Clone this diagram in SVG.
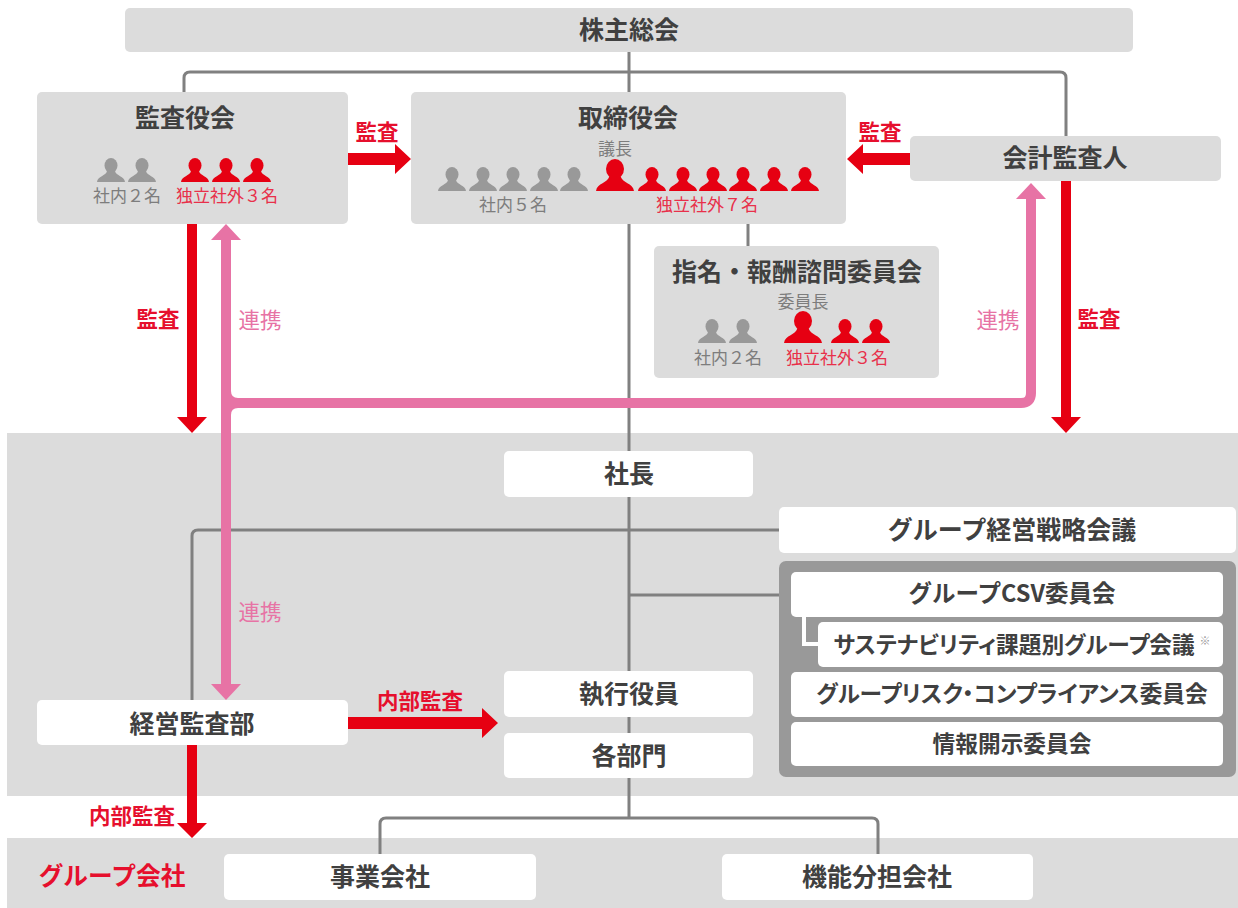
<svg xmlns="http://www.w3.org/2000/svg" xmlns:xlink="http://www.w3.org/1999/xlink" width="1238" height="908" viewBox="0 0 1238 908">
<style>
text{font-family:"Noto Sans CJK JP","Noto Sans CJK SC",sans-serif;text-anchor:middle;dominant-baseline:central}
.band{fill:#dcdcdc}
.g{fill:#dcdcdc}
.w{fill:#fff}
.t{font-size:25px;font-weight:700;fill:#404040}
.m{font-size:22.7px;font-weight:700;fill:#404040}
.k{font-feature-settings:"palt"}
.s{font-size:17px;fill:#7d7d7d}
.sr{font-size:17px;fill:#e8304a}
.rl{font-size:21.5px;font-weight:700;fill:#e60f2d}
.pl{font-size:21.5px;fill:#e773a5}
.ln{fill:none;stroke:#808080;stroke-width:3}
.pk{fill:none;stroke:#e773a5;stroke-width:10}
.gp{fill:#999}
.rp{fill:#e60012}
.ra{fill:#e60012}
.pa{fill:#e773a5}
</style>
<defs>
<g id="p"><ellipse cx="0" cy="-16.500" rx="6.500" ry="7.500"/><path d="M-14 0C-13.500-6-5-6-4-11L4-11C5-6 13.500-6 14 0Z"/></g>
<g id="P"><ellipse cx="0" cy="-22" rx="9" ry="10"/><path d="M-19 0C-18-8-7-8-5.500-15L5.500-15C7-8 18-8 19 0Z"/></g>
</defs>
<g id="bands">
<rect class="band" x="7" y="433" width="1231" height="363"/>
<rect class="band" x="7" y="838" width="1231" height="70"/>
</g>
<g id="connectors">
<path class="ln" d="M629 52V451M629 497V671M629 717V733M629 778V818"/>
<path class="ln" d="M184 92V78Q184 72 190 72H1060Q1066 72 1066 78V136"/>
<path class="ln" d="M748 224V246"/>
<path class="ln" d="M192 700V536Q192 530 198 530H779"/>
<path class="ln" d="M629 595H779"/>
<path class="ln" d="M380 854V824Q380 818 386 818H872Q878 818 878 824V854"/>
<path class="pk" d="M226 236V688"/>
<path class="pk" d="M226 403H1021Q1031 403 1031 393V196"/>
<path class="pa" d="M226 224L241 240H211ZM226 700L211 684H241ZM1031 183L1046 199H1016ZM231 391Q231 398 238 398H231ZM231 415Q231 408 238 408H231Z"/>
<path class="ra" d="M187 224H197V417H207L192 433L177 417H187Z"/>
<path class="ra" d="M1061 181H1071V417H1081L1066 433L1051 417H1061Z"/>
<path class="ra" d="M348 153H395V144L411 159L395 174V165H348Z"/>
<path class="ra" d="M910 153H863V144L847 159L863 174V165H910Z"/>
<path class="ra" d="M348 717H482V708L498 723L482 738V729H348Z"/>
<path class="ra" d="M187 745H197V823H207L192 838L177 823H187Z"/>
</g>
<g id="n-shareholders"><rect class="g" x="125" y="8" width="1008" height="44" rx="5"/><text class="t" x="629" y="28">株主総会</text></g>
<g id="n-audit-board">
<rect class="g" x="37" y="92" width="311" height="132" rx="5"/>
<text class="t" x="185" y="116">監査役会</text>
<g class="gp"><use xlink:href="#p" x="111" y="182"/><use xlink:href="#p" x="142" y="182"/></g>
<g class="rp"><use xlink:href="#p" x="195" y="182"/><use xlink:href="#p" x="226" y="182"/><use xlink:href="#p" x="257" y="182"/></g>
<text class="s" x="127" y="194">社内２名</text>
<text class="sr" x="227" y="194">独立社外３名</text>
</g>
<g id="n-board">
<rect class="g" x="411" y="92" width="435" height="132" rx="5"/>
<text class="t" x="628" y="116">取締役会</text>
<text class="s" x="615" y="147">議長</text>
<g class="gp"><use xlink:href="#p" x="452" y="191"/><use xlink:href="#p" x="483" y="191"/><use xlink:href="#p" x="513" y="191"/><use xlink:href="#p" x="544" y="191"/><use xlink:href="#p" x="574" y="191"/></g>
<g class="rp"><use xlink:href="#P" x="615" y="191"/><use xlink:href="#p" x="652" y="191"/><use xlink:href="#p" x="683" y="191"/><use xlink:href="#p" x="713" y="191"/><use xlink:href="#p" x="743" y="191"/><use xlink:href="#p" x="774" y="191"/><use xlink:href="#p" x="805" y="191"/></g>
<text class="s" x="513" y="203">社内５名</text>
<text class="sr" x="707" y="203">独立社外７名</text>
</g>
<g id="n-auditor"><rect class="g" x="910" y="136" width="311" height="45" rx="5"/><text class="t" x="1065" y="156">会計監査人</text></g>
<g id="n-nomination">
<rect class="g" x="654" y="246" width="285" height="132" rx="5"/>
<text class="t" x="797" y="270">指名・報酬諮問委員会</text>
<text class="s" x="803" y="300">委員長</text>
<g class="gp"><use xlink:href="#p" x="712" y="343"/><use xlink:href="#p" x="743" y="343"/></g>
<g class="rp"><use xlink:href="#P" x="803" y="343"/><use xlink:href="#p" x="845" y="343"/><use xlink:href="#p" x="876" y="343"/></g>
<text class="s" x="728" y="356">社内２名</text>
<text class="sr" x="837" y="356">独立社外３名</text>
</g>
<g id="n-president"><rect class="w" x="504" y="451" width="249" height="46" rx="5"/><text class="t" x="629" y="472">社長</text></g>
<g id="n-strategy"><rect class="w" x="779" y="507" width="457" height="46" rx="5"/><text class="t" x="1012" y="528">グループ経営戦略会議</text></g>
<g id="n-committees">
<rect class="gp" x="779" y="561" width="457" height="216" rx="7"/>
<rect class="w" x="791" y="572" width="432" height="45" rx="5"/>
<path d="M804 617V644H818" fill="none" stroke="#fff" stroke-width="4"/>
<rect class="w" x="818" y="622" width="405" height="45" rx="5"/>
<rect class="w" x="791" y="672" width="432" height="45" rx="5"/>
<rect class="w" x="791" y="722" width="432" height="44" rx="5"/>
<text class="m" x="1012" y="592" style="font-size:23.5px">グループCSV委員会</text>
<text class="m k" x="1014" y="643">サステナビリティ課題別グループ会議</text>
<text x="1205" y="640" style="font-size:11px;fill:#999">※</text>
<text class="m k" x="1012" y="692">グループリスク・コンプライアンス委員会</text>
<text class="m" x="1012" y="742">情報開示委員会</text>
</g>
<g id="n-officers"><rect class="w" x="504" y="671" width="249" height="46" rx="5"/><text class="t" x="629" y="692">執行役員</text></g>
<g id="n-departments"><rect class="w" x="504" y="733" width="249" height="45" rx="5"/><text class="t" x="629" y="754">各部門</text></g>
<g id="n-internal-audit"><rect class="w" x="37" y="700" width="311" height="45" rx="5"/><text class="t" x="192" y="722">経営監査部</text></g>
<g id="n-group"><text x="112" y="874" style="font-size:24.700px;font-weight:700;fill:#e60f2d">グループ会社</text></g>
<g id="n-business"><rect class="w" x="224" y="854" width="312" height="46" rx="5"/><text class="t" x="380" y="875">事業会社</text></g>
<g id="n-functional"><rect class="w" x="722" y="854" width="311" height="46" rx="5"/><text class="t" x="877" y="875">機能分担会社</text></g>
<g id="labels">
<text class="rl" x="377" y="130">監査</text>
<text class="rl" x="880" y="130">監査</text>
<text class="rl" x="158" y="317">監査</text>
<text class="rl" x="1099" y="317">監査</text>
<text class="pl" x="260" y="318">連携</text>
<text class="pl" x="998" y="318">連携</text>
<text class="pl" x="260" y="610">連携</text>
<text class="rl" x="420" y="699">内部監査</text>
<text class="rl" x="132" y="814">内部監査</text>
</g>
</svg>
